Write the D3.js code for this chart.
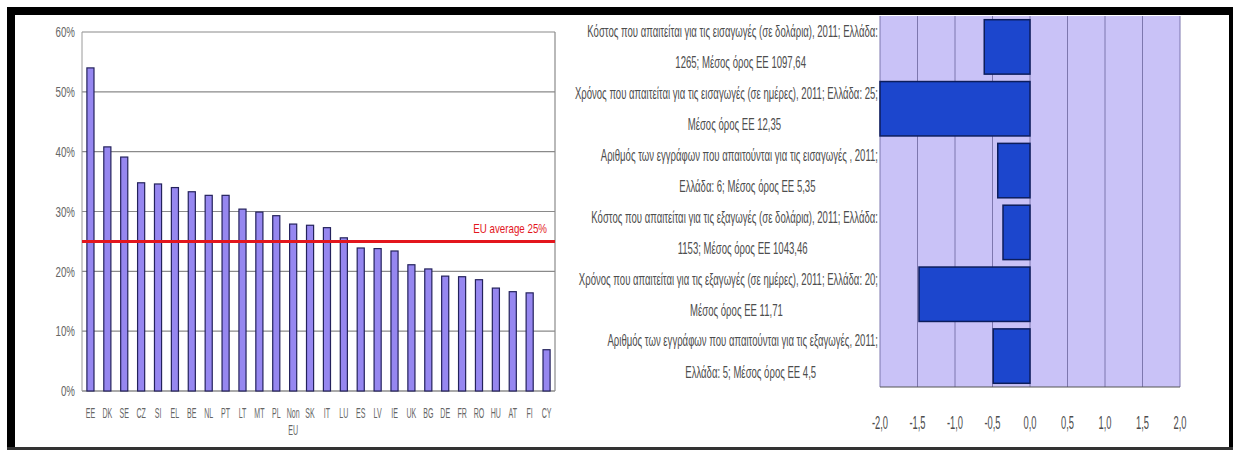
<!DOCTYPE html>
<html>
<head>
<meta charset="utf-8">
<script src="https://cdn.jsdelivr.net/npm/d3@7"></script>
<style>
  body { margin: 0; background: #fff; }
  svg { display: block; }
  text { font-family: "Liberation Sans", Arial, sans-serif; }
</style>
</head>
<body>
<svg id="chart" width="1234" height="450"></svg>
<script>
// Share by country (%), sorted descending
const countries = ["EE","DK","SE","CZ","SI","EL","BE","NL","PT","LT","MT","PL","Non EU","SK","IT","LU","ES","LV","IE","UK","BG","DE","FR","RO","HU","AT","FI","CY"];
const shares = [54.0,40.8,39.1,34.8,34.6,34.0,33.3,32.7,32.7,30.4,29.9,29.3,27.9,27.7,27.3,25.6,23.9,23.8,23.4,21.1,20.4,19.2,19.1,18.6,17.2,16.6,16.4,6.9];
const shareTicks = [0,10,20,30,40,50,60];
const euAverage = 25;
const euAverageLabel = "EU average 25%";

// Trading-across-borders indicators, Greece relative to EU average
const indicatorLabels = [
  ["Κόστος που απαιτείται για τις εισαγωγές (σε δολάρια), 2011; Ελλάδα:", "1265; Μέσος όρος ΕΕ 1097,64"],
  ["Χρόνος που απαιτείται για τις εισαγωγές (σε ημέρες), 2011; Ελλάδα: 25;", "Μέσος όρος ΕΕ 12,35"],
  ["Αριθμός των εγγράφων που απαιτούνται για τις εισαγωγές , 2011;", "Ελλάδα: 6; Μέσος όρος ΕΕ 5,35"],
  ["Κόστος που απαιτείται για τις εξαγωγές (σε δολάρια), 2011; Ελλάδα:", "1153; Μέσος όρος ΕΕ 1043,46"],
  ["Χρόνος που απαιτείται για τις εξαγωγές (σε ημέρες), 2011; Ελλάδα: 20;", "Μέσος όρος ΕΕ 11,71"],
  ["Αριθμός των εγγράφων που απαιτούνται για τις εξαγωγές, 2011;", "Ελλάδα: 5; Μέσος όρος ΕΕ 4,5"]
];
const gaps = [-0.61,-2.0,-0.43,-0.36,-1.48,-0.49];
const gapTicks = [-2,-1.5,-1,-0.5,0,0.5,1,1.5,2];

const svg = d3.select("#chart");

// narrow text helper: horizontally condensed glyphs
function ntext(parent, x, y, str, size, sx, anchor, fill) {
  return parent.append("text")
    .attr("transform", `translate(${x},${y}) scale(${sx},1)`)
    .attr("text-anchor", anchor)
    .attr("dy", "0.35em")
    .attr("font-size", size)
    .attr("fill", fill)
    .text(str);
}

// ---------- Left: column chart ----------
const L = { x0: 82, x1: 555, y0: 32, y1: 391 };
const xL = d3.scaleBand().domain(countries).range([L.x0, L.x1]).paddingInner(0.58).paddingOuter(0.29);
const yL = d3.scaleLinear().domain([0, 60]).range([L.y1, L.y0]);
const gL = svg.append("g");

gL.selectAll("line.grid").data(shareTicks).join("line")
  .attr("x1", L.x0).attr("x2", L.x1)
  .attr("y1", d => yL(d)).attr("y2", d => yL(d))
  .attr("stroke", d => d === 0 ? "#555" : "#8a8a8a").attr("stroke-width", 1.2);
gL.append("line").attr("x1", L.x0).attr("x2", L.x0).attr("y1", L.y0).attr("y2", L.y1).attr("stroke", "#9a9a9a");
gL.append("line").attr("x1", L.x1).attr("x2", L.x1).attr("y1", L.y0).attr("y2", L.y1).attr("stroke", "#8a8a8a").attr("stroke-width", 1.2);

gL.selectAll("rect.bar").data(countries).join("rect")
  .attr("x", d => xL(d))
  .attr("width", xL.bandwidth())
  .attr("y", (d, i) => yL(shares[i]))
  .attr("height", (d, i) => yL(0) - yL(shares[i]))
  .attr("fill", "#9687f0")
  .attr("stroke", "#24225c").attr("stroke-width", 1.2);

gL.append("line")
  .attr("x1", L.x0).attr("x2", L.x1)
  .attr("y1", yL(euAverage)).attr("y2", yL(euAverage))
  .attr("stroke", "#e3161d").attr("stroke-width", 3);
ntext(gL, 547, 228, euAverageLabel, 13, 0.75, "end", "#e3161d");

shareTicks.forEach(t => ntext(gL, 75, yL(t), t + "%", 15, 0.65, "end", "#666"));

countries.forEach(c => {
  const cx = xL(c) + xL.bandwidth() / 2;
  c.split(" ").forEach((part, k) => ntext(gL, cx, 413 + k * 17, part, 15, 0.47, "middle", "#666"));
});

// ---------- Right: horizontal bar chart ----------
const R = { x0: 880, x1: 1180, y0: 16, y1: 387 };
const xR = d3.scaleLinear().domain([-2, 2]).range([R.x0, R.x1]);
const yR = d3.scaleBand().domain(d3.range(gaps.length)).range([R.y0, R.y1]).paddingInner(0.12).paddingOuter(0.06);
const gR = svg.append("g");

gR.append("rect").attr("x", R.x0).attr("y", R.y0).attr("width", R.x1 - R.x0).attr("height", R.y1 - R.y0).attr("fill", "#c9c2f7");
gR.selectAll("line.grid").data(gapTicks).join("line")
  .attr("x1", d => xR(d)).attr("x2", d => xR(d))
  .attr("y1", R.y0).attr("y2", R.y1)
  .attr("stroke", "#7d77ae").attr("stroke-width", 1);
gR.append("line").attr("x1", R.x0).attr("x2", R.x1).attr("y1", R.y1).attr("y2", R.y1).attr("stroke", "#555").attr("stroke-width", 1.2);

gR.selectAll("rect.bar").data(gaps).join("rect")
  .attr("x", d => xR(Math.min(0, d)))
  .attr("width", d => Math.abs(xR(d) - xR(0)))
  .attr("y", (d, i) => yR(i))
  .attr("height", yR.bandwidth())
  .attr("fill", "#1c46cd")
  .attr("stroke", "#0c1d5c").attr("stroke-width", 1.5);

const fmt = d3.formatLocale({ decimal: ",", thousands: ".", grouping: [3], currency: ["", ""], minus: "-" }).format(".1f");
gapTicks.forEach(t => ntext(gR, xR(t), 423, fmt(t), 18, 0.52, "middle", "#4d4d4d"));

// two-line category labels, wrapped and centred, right edge against the plot
const labelRight = 878, labelSize = 17;
const probe = ntext(gR, 0, -100, indicatorLabels[0][0], labelSize, 1, "start", "#555");
const labelScale = 291 / probe.node().getComputedTextLength();
probe.remove();
indicatorLabels.forEach((lines, i) => {
  const cy = yR(i) + yR.bandwidth() / 2;
  const widths = lines.map(s => {
    const t = ntext(gR, 0, -100, s, labelSize, labelScale, "start", "#555");
    const w = t.node().getComputedTextLength() * labelScale;
    t.remove();
    return w;
  });
  const boxW = d3.max(widths);
  const cx = labelRight - boxW / 2;
  ntext(gR, cx, cy - 15.6, lines[0], labelSize, labelScale, "middle", "#4d4d4d");
  ntext(gR, cx + 8, cy + 15.6, lines[1], labelSize, labelScale, "middle", "#4d4d4d");
});

// ---------- Frame ----------
const frame = svg.append("g");
frame.append("rect").attr("x", 7).attr("y", 7).attr("width", 1226).attr("height", 8).attr("fill", "#000");
frame.append("rect").attr("x", 7).attr("y", 7).attr("width", 8).attr("height", 443).attr("fill", "#000");
frame.append("rect").attr("x", 1229).attr("y", 7).attr("width", 4).attr("height", 443).attr("fill", "#000");
frame.append("rect").attr("x", 7).attr("y", 447).attr("width", 1226).attr("height", 3).attr("fill", "#333");
</script>
</body>
</html>
